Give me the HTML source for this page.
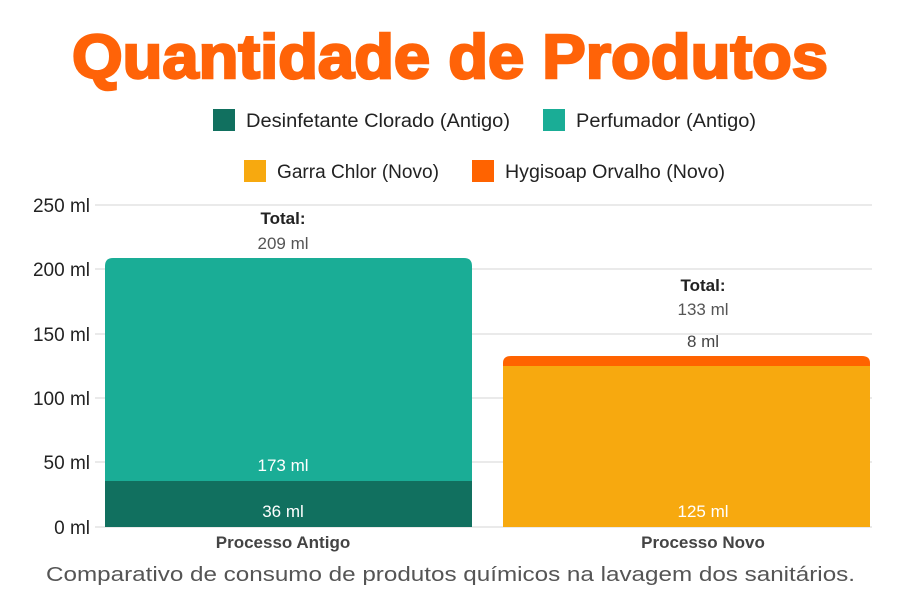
<!DOCTYPE html>
<html><head><meta charset="utf-8"><style>
body{margin:0;background:#fff;width:900px;height:600px;overflow:hidden;font-family:"Liberation Sans","DejaVu Sans",sans-serif}
</style></head><body>
<svg width="900" height="600" xmlns="http://www.w3.org/2000/svg" font-family="Liberation Sans, DejaVu Sans, sans-serif">
<text x="72" y="78" font-size="62" font-weight="900" fill="#FF6308" stroke="#FF6308" stroke-width="2.5" textLength="756" lengthAdjust="spacingAndGlyphs">Quantidade de Produtos</text>
<rect x="213" y="109" width="22" height="22" fill="#11705F"/>
<text x="246" y="127" font-size="19" fill="#222" textLength="264" lengthAdjust="spacingAndGlyphs">Desinfetante Clorado (Antigo)</text>
<rect x="543" y="109" width="22" height="22" fill="#1AAD96"/>
<text x="576" y="127" font-size="19" fill="#222" textLength="180" lengthAdjust="spacingAndGlyphs">Perfumador (Antigo)</text>
<rect x="244" y="160" width="22" height="22" fill="#F7A90F"/>
<text x="277" y="178" font-size="19" fill="#222" textLength="162" lengthAdjust="spacingAndGlyphs">Garra Chlor (Novo)</text>
<rect x="472" y="160" width="22" height="22" fill="#FF6300"/>
<text x="505" y="178" font-size="19" fill="#222" textLength="220" lengthAdjust="spacingAndGlyphs">Hygisoap Orvalho (Novo)</text>
<g stroke="#d6d6d6" stroke-width="1">
<line x1="95" x2="872" y1="205" y2="205"/><line x1="95" x2="872" y1="269" y2="269"/>
<line x1="95" x2="872" y1="334" y2="334"/><line x1="95" x2="872" y1="398" y2="398"/>
<line x1="95" x2="872" y1="462" y2="462"/><line x1="95" x2="872" y1="527" y2="527"/>
</g>
<g font-size="19" fill="#222" text-anchor="end">
<text x="90" y="212">250 ml</text><text x="90" y="276">200 ml</text><text x="90" y="341">150 ml</text>
<text x="90" y="405">100 ml</text><text x="90" y="469">50 ml</text><text x="90" y="534">0 ml</text>
</g>
<path d="M105 481 V266 Q105 258 113 258 H464 Q472 258 472 266 V481 Z" fill="#1AAD96"/>
<rect x="105" y="481" width="367" height="46" fill="#11705F"/>
<path d="M503 366 V363 Q503 356 511 356 H862 Q870 356 870 363 V366 Z" fill="#FF6300"/>
<rect x="503" y="366" width="367" height="161" fill="#F7A90F"/>
<g font-size="17" text-anchor="middle">
<text x="283" y="224" font-weight="bold" fill="#222">Total:</text>
<text x="283" y="249" fill="#555">209 ml</text>
<text x="283" y="471" fill="#fff">173 ml</text>
<text x="283" y="517" fill="#fff">36 ml</text>
<text x="703" y="291" font-weight="bold" fill="#222">Total:</text>
<text x="703" y="315" fill="#555">133 ml</text>
<text x="703" y="347" fill="#444">8 ml</text>
<text x="703" y="517" fill="#fff">125 ml</text>
<text x="283" y="548" font-weight="bold" fill="#444">Processo Antigo</text>
<text x="703" y="548" font-weight="bold" fill="#444">Processo Novo</text>
</g>
<text x="46" y="581" font-size="20" fill="#555" textLength="809" lengthAdjust="spacingAndGlyphs">Comparativo de consumo de produtos químicos na lavagem dos sanitários.</text>
</svg>
</body></html>
